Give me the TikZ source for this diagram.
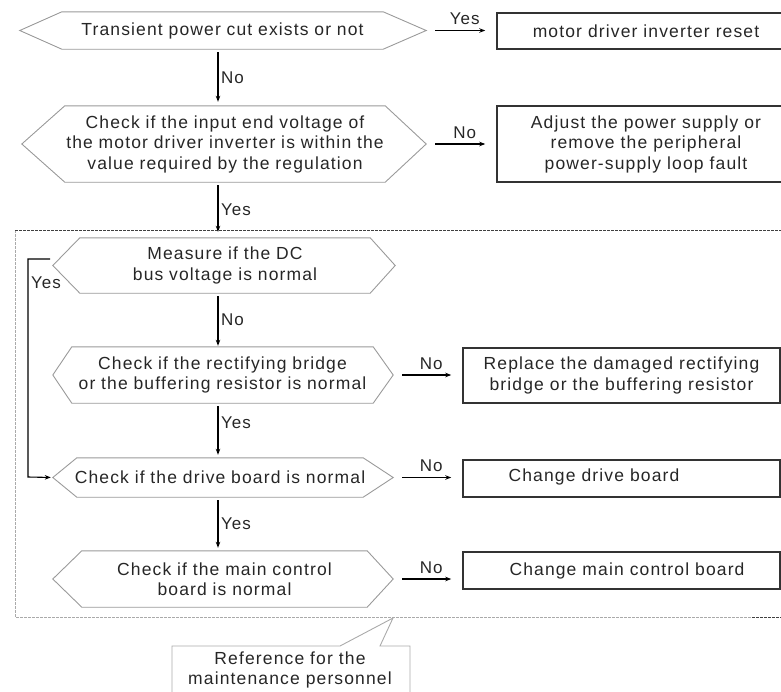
\documentclass[tikz,border=0pt]{standalone}
\usepackage{fontspec}
\setmainfont[LetterSpace=6.5]{Liberation Sans}
\usetikzlibrary{arrows.meta,calc}
\definecolor{hexc}{HTML}{9A9A9A}
\definecolor{lightc}{HTML}{AAAAAA}
\definecolor{boxc}{HTML}{333333}
\definecolor{textc}{HTML}{262626}
\newcommand\hexn[8]{%
  \node[hextext, text width=#4pt, minimum height=#5pt] (#1) at (#2,#3) {#8};
  \coordinate (#1L) at ($(#1.west)+(-#6,0)$);
  \coordinate (#1R) at ($(#1.east)+(#7,0)$);
  \draw[hexline] (#1.north west) -- (#1L) -- (#1.south west) -- (#1.south east) -- (#1R) -- (#1.north east) -- cycle;
}
\begin{document}
\begin{tikzpicture}[x=1pt,y=-1pt,
  txt/.style={font=\fontsize{17.5}{20.5}\selectfont, text=textc, align=center, inner sep=0pt},
  hextext/.style={txt},
  hexline/.style={draw=hexc, line width=0.9pt, line join=miter},
  box/.style={draw=boxc, line width=1.5pt, txt},
  arr/.style={-{Stealth[length=6pt,width=4.5pt]}, line width=1.1pt, draw=black},
  lbl/.style={font=\fontsize{17}{19}\selectfont, text=textc, inner sep=2.5pt},
  hlbl/.style={lbl, above=2.5pt},
  darkdash/.style={draw=black!75, line width=0.9pt, dash pattern=on 2.5pt off 1.5pt},
  lightdash/.style={draw=lightc, line width=0.8pt, dash pattern=on 2.5pt off 1.5pt},
  callout/.style={draw=lightc, line width=0.9pt}
]
\useasboundingbox (0,0) rectangle (781,691);

% dashed frame
\draw[lightdash] (15,230) -- (15,617) -- (752,617);
\draw[darkdash] (752,617) -- (795,617);
\draw[darkdash] (15,230) -- (795,230);

% hexagons
\hexn{h1}{222.5}{30.5}{321}{37}{42}{43}{\makebox[0pt]{Transient power cut exists or not}}
\hexn{h2}{225}{144}{320}{76}{43}{41}{Check if the input end voltage of\\\makebox[0pt]{the motor driver inverter is within the}\\value required by the regulation}
\hexn{h3}{225}{265.5}{290}{55}{27}{25}{Measure if the DC\\bus voltage is normal}
\hexn{h4}{222.5}{375}{301}{56}{19}{20}{Check if the rectifying bridge\\\makebox[0pt]{or the buffering resistor is normal}}
\hexn{h5}{220}{477.5}{286}{39}{24}{30}{\makebox[0pt]{Check if the drive board is normal}}
\hexn{h6}{224.5}{579}{285}{56}{29}{26}{Check if the main control\\board is normal}

% boxes
\node[box, minimum width=298pt, minimum height=36pt] (b1) at (646,31) {motor driver inverter reset};
\node[box, minimum width=298pt, minimum height=76pt] (b2) at (646,144) {Adjust the power supply or\\remove the peripheral\\power-supply loop fault};
\node[box, minimum width=317pt, minimum height=55pt] (b3) at (621.5,375.5) {Replace the damaged rectifying\\bridge or the buffering resistor};
\node[box, minimum width=317pt, minimum height=37pt] (b4) at (621.5,478.5) {};
\node[txt] (t4) at (594,477) {Change drive board};
\node[box, minimum width=317pt, minimum height=37pt] (b5) at (621.5,570.5) {};
\node[txt] (t5) at (627,571) {Change main control board};

% vertical arrows
\coordinate (ax) at (218,0);
\draw[arr, shorten <=3pt, shorten >=4pt] (h1.south -| ax) -- node[lbl, right, pos=0.5] {No} (h2.north -| ax);
\draw[arr, shorten <=3pt, shorten >=6pt] (h2.south -| ax) -- node[lbl, right, pos=0.5] {Yes} (h3.north -| ax);
\draw[arr, shorten <=3pt, shorten >=1pt] (h3.south -| ax) -- node[lbl, right, pos=0.5] {No} (h4.north -| ax);
\draw[arr, shorten <=3pt, shorten >=3pt] (h4.south -| ax) -- node[lbl, right, pos=0.35] {Yes} (h5.north -| ax);
\draw[arr, shorten <=3pt, shorten >=3pt] (h5.south -| ax) -- node[lbl, right, pos=0.5] {Yes} (h6.north -| ax);

% horizontal arrows
\draw[arr, shorten <=9pt, shorten >=11pt] (h1R) -- node[hlbl, pos=0.55] {Yes} (h1R -| b1.west);
\draw[arr, shorten <=9pt, shorten >=11pt] (h2R) -- node[hlbl, pos=0.55] {No} (h2R -| b2.west);
\draw[arr, shorten <=9pt, shorten >=11pt] (h4R) -- node[hlbl, pos=0.55] {No} (h4R -| b3.west);
\draw[arr, shorten <=9pt, shorten >=11pt] (h5R) -- node[hlbl, pos=0.55] {No} (h5R -| b4.west);
\draw[arr, shorten <=9pt, shorten >=11pt] (h6R) -- node[hlbl, pos=0.55] {No} (h6R -| b5.west);

% Yes loop
\coordinate (ys) at (50,259);
\coordinate (yc1) at (28,259);
\coordinate (yc2) at (28,477);
\draw[arr, shorten >=2pt] (ys) -- (yc1) -- node[lbl, right, pos=0.11] {Yes} (yc2) -- (h5L);

% callout
\draw[callout] (172,700) -- (172,646) -- (340,646) -- (393,618) -- (380,646) -- (410,646) -- (410,700);
\node[txt] (ref) at (290,670) {Reference for the\\maintenance personnel};
\end{tikzpicture}
\end{document}
